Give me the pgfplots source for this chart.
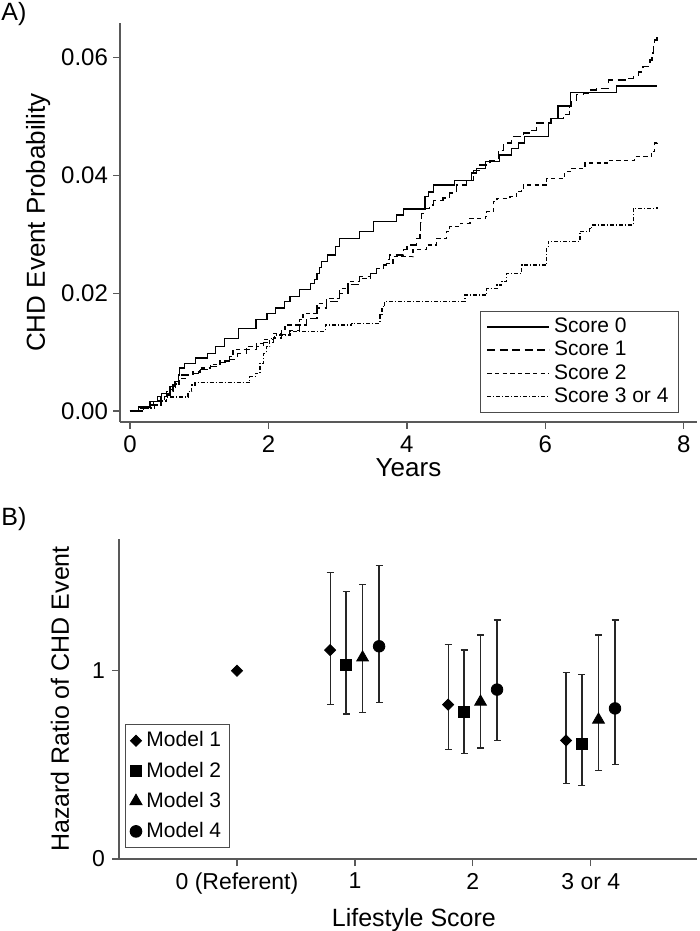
\documentclass[border=0pt]{standalone}
\usepackage{fontspec}
\setmainfont{Liberation Sans}
\usepackage{pgfplots}
\pgfplotsset{compat=1.18}
\begin{document}
\begin{tikzpicture}
\useasboundingbox (0,0) rectangle (350pt,-465.5pt);
\pgfplotsset{
  mystyle/.style={
    scale only axis,
    axis lines*=left,
    axis line style={black!65, line width=0.6pt},
    tick align=outside,
    major tick length=3.5pt,
    tick style={black!65, line width=0.6pt},
    tick label style={font=\fontsize{12}{14}\selectfont},
    label style={font=\fontsize{13}{15}\selectfont},
    scaled ticks=false,
    clip=false,
  }
}
\node[font=\fontsize{12.5}{14}\selectfont] at (7pt,-7pt) {A)};
\node[font=\fontsize{12.5}{14}\selectfont] at (7pt,-259.5pt) {B)};
% ---------------- Panel A ----------------
\begin{axis}[mystyle,
  at={(60pt,-11.5pt)}, anchor=north west,
  width=288.5pt, height=199.5pt,
  xmin=-0.144, xmax=8.19, ymin=-0.00187, ymax=0.0659,
  xtick={0,2,4,6,8}, xticklabels={0,2,4,6,8},
  ytick={0,0.02,0.04,0.06}, yticklabels={0.00,0.02,0.04,0.06},
  yticklabel style={xshift=1pt},
  xlabel={Years}, ylabel={CHD Event Probability},
  xlabel style={at={(axis description cs:0.5,0)}, anchor=center, yshift=-23pt},
  ylabel style={at={(axis description cs:-0.142,0.5)}, anchor=center},
  legend cell align=left,
  legend image code/.code={\draw[#1] (0pt,0pt) -- (31pt,0pt);},
  legend style={at={(axis description cs:1,0)}, anchor=south east,
    xshift=-9pt, yshift=4.5pt, draw=black!70, line width=0.5pt,
    font=\fontsize{10.5}{12}\selectfont, row sep=-1.2pt,
    inner xsep=3pt, inner ysep=1.5pt},
]
\addplot[const plot, black, line width=0.65pt] coordinates {
(0,0) (0.12,0.0007) (0.29,0.0016) (0.40,0.0025) (0.46,0.0030) (0.58,0.0041)
(0.65,0.0050) (0.70,0.0061) (0.72,0.0073) (0.79,0.0081) (0.95,0.0090)
(1.12,0.0098) (1.24,0.0109) (1.37,0.0123) (1.57,0.0140) (1.82,0.0155)
(1.98,0.0166) (2.10,0.0175) (2.23,0.0186) (2.31,0.0194) (2.45,0.0206)
(2.61,0.0217) (2.67,0.0223) (2.70,0.0234) (2.74,0.0244) (2.77,0.0254)
(2.85,0.0265) (2.97,0.0279) (3.03,0.0293) (3.32,0.0305) (3.52,0.0322)
(3.85,0.0333) (3.95,0.0343) (4.26,0.0364) (4.31,0.0372) (4.38,0.0384)
(4.69,0.0392) (4.93,0.0404) (5.01,0.0412) (5.13,0.0424) (5.34,0.0435)
(5.51,0.0446) (5.61,0.0455) (5.70,0.0466) (6.04,0.0490) (6.08,0.0497)
(6.18,0.0518) (6.36,0.0541) (7.03,0.0552) (7.61,0.0552)};
\addlegendentry{Score 0}
\addplot[const plot, black, line width=0.65pt, dash pattern=on 4pt off 2.2pt] coordinates {
(0,0) (0.14,0.0004) (0.25,0.0010) (0.34,0.0016) (0.45,0.0025) (0.53,0.0033)
(0.62,0.0045) (0.70,0.0056) (0.75,0.0061) (0.91,0.0064) (1.01,0.0070)
(1.16,0.0076) (1.30,0.0082) (1.44,0.0088) (1.55,0.0098) (1.68,0.0104)
(1.83,0.0110) (1.93,0.0116) (2.07,0.0124) (2.19,0.0130) (2.30,0.0137)
(2.45,0.0146) (2.55,0.0157) (2.70,0.0175) (2.84,0.0186) (3.03,0.0200)
(3.15,0.0215) (3.32,0.0228) (3.47,0.0234) (3.56,0.0242) (3.66,0.0248)
(3.71,0.0257) (3.75,0.0265) (3.95,0.0274) (4.00,0.0282) (4.14,0.0293)
(4.19,0.0302) (4.20,0.0320) (4.21,0.0336) (4.24,0.0344) (4.33,0.0350)
(4.38,0.0358) (4.52,0.0362) (4.62,0.0370) (4.72,0.0384) (4.86,0.0392)
(4.96,0.0409) (5.05,0.0418) (5.20,0.0426) (5.32,0.0443) (5.39,0.0455)
(5.51,0.0466) (5.68,0.0472) (5.80,0.0477) (5.87,0.0489) (6.09,0.0497)
(6.26,0.0503) (6.35,0.0517) (6.38,0.0528) (6.45,0.0537) (6.55,0.0540)
(6.64,0.0545) (6.74,0.0548) (6.91,0.0562) (7.17,0.0565) (7.27,0.0568)
(7.34,0.0576) (7.41,0.0585) (7.51,0.0596) (7.54,0.0608) (7.56,0.0619)
(7.58,0.0630) (7.61,0.0642)};
\addlegendentry{Score 1}
\addplot[const plot, black, line width=0.65pt, dash pattern=on 2.2pt off 1.6pt] coordinates {
(0,0) (0.18,0.0004) (0.30,0.0010) (0.40,0.0018) (0.50,0.0027) (0.58,0.0036)
(0.66,0.0046) (0.72,0.0055) (0.80,0.0062) (0.91,0.0066) (1.01,0.0073)
(1.16,0.0079) (1.30,0.0085) (1.44,0.0093) (1.49,0.0104) (1.68,0.0109)
(1.83,0.0115) (1.93,0.0121) (2.07,0.0132) (2.19,0.0138) (2.24,0.0146)
(2.45,0.0155) (2.50,0.0166) (2.70,0.0183) (2.84,0.0191) (3.03,0.0208)
(3.15,0.0220) (3.32,0.0225) (3.47,0.0234) (3.56,0.0242) (3.66,0.0250)
(3.80,0.0262) (4.09,0.0274) (4.28,0.0282) (4.43,0.0293) (4.57,0.0305)
(4.62,0.0313) (4.77,0.0319) (4.91,0.0327) (5.13,0.0330) (5.15,0.0339)
(5.25,0.0356) (5.30,0.0361) (5.49,0.0364) (5.58,0.0373) (5.66,0.0378)
(5.68,0.0384) (6.02,0.0395) (6.28,0.0407) (6.38,0.0412) (6.57,0.0421)
(6.90,0.0426) (7.29,0.0432) (7.53,0.0441) (7.58,0.0455) (7.61,0.0460)};
\addlegendentry{Score 2}
\addplot[const plot, black, line width=0.65pt, dash pattern=on 2pt off 1pt on 0.5pt off 1pt] coordinates {
(0,0) (0.20,0.0005) (0.35,0.0010) (0.45,0.0017) (0.53,0.0024) (0.84,0.0033)
(0.89,0.0044) (0.94,0.0048) (1.73,0.0058) (1.81,0.0064) (1.88,0.0081)
(1.93,0.0098) (1.97,0.0109) (2.02,0.0123) (2.09,0.0129) (2.31,0.0135)
(2.82,0.0146) (3.20,0.0149) (3.61,0.0163) (3.64,0.0177) (3.68,0.0186)
(4.84,0.0197) (5.15,0.0208) (5.30,0.0214) (5.37,0.0220) (5.44,0.0234)
(5.66,0.0248) (6.02,0.0279) (6.04,0.0288) (6.50,0.0305) (6.64,0.0310)
(6.67,0.0316) (7.27,0.0344) (7.61,0.0347)};
\addlegendentry{Score 3 or 4}
\end{axis}
% ---------------- Panel B ----------------
\begin{axis}[mystyle,
  at={(59.5pt,-269.5pt)}, anchor=north west,
  width=289pt, height=160pt,
  xmin=-1, xmax=3.9, ymin=0, ymax=1.7,
  xtick={0,1,2,3}, xticklabels={0 (Referent),1,2,3 or 4},
  ytick={0,1}, yticklabels={0,1},
  tick label style={font=\fontsize{11.5}{13}\selectfont},
  label style={font=\fontsize{12.5}{14}\selectfont},
  xlabel={Lifestyle Score}, ylabel={Hazard Ratio of CHD Event},
  xlabel style={at={(axis cs:1.5,0)}, anchor=center, yshift=-30.5pt},
  ylabel style={at={(axis description cs:-0.102,0.5)}, anchor=center},
  legend cell align=left,
  legend image code/.code={\path (-2pt,0pt) (4pt,0pt); \draw[#1] plot coordinates {(1pt,0pt)};},
  legend style={at={(axis description cs:0,0)}, anchor=south west,
    xshift=3pt, yshift=5.5pt, draw=black!70, line width=0.5pt,
    font=\fontsize{10.5}{12}\selectfont, row sep=2pt,
    inner xsep=2pt, inner ysep=1.5pt},
  every axis plot/.append style={only marks, black,
    error bars/y dir=both, error bars/y explicit,
    error bars/error bar style={black!85, line width=0.6pt},
    error bars/error mark options={rotate=90, mark size=1.75pt, black!85, line width=0.6pt}},
]
\addplot[mark=square*, mark options={rotate=45}, mark size=1.95pt]
  table[x=x, y=y, y error plus=ep, y error minus=em] {
x y ep em
0.79 1.11 0.41 0.29
1.79 0.82 0.32 0.24
2.79 0.63 0.36 0.23
};
\addlegendentry{Model 1}
\addplot[mark=square*, mark size=2.7pt]
  table[x=x, y=y, y error plus=ep, y error minus=em] {
x y ep em
0.925 1.03 0.39 0.26
1.925 0.78 0.33 0.22
2.925 0.61 0.37 0.22
};
\addlegendentry{Model 2}
\addplot[mark=triangle*, mark size=3.4pt]
  table[x=x, y=y, y error plus=ep, y error minus=em] {
x y ep em
1.065 1.07 0.39 0.29
2.065 0.835 0.355 0.245
3.065 0.74 0.45 0.27
};
\addlegendentry{Model 3}
\addplot[mark=*, mark size=2.9pt]
  table[x=x, y=y, y error plus=ep, y error minus=em] {
x y ep em
1.205 1.13 0.43 0.30
2.205 0.90 0.37 0.27
3.205 0.80 0.47 0.30
};
\addlegendentry{Model 4}
\addplot[mark=square*, mark options={rotate=45}, mark size=1.95pt, forget plot,
  error bars/y dir=none] coordinates {(0,1.0)};
\end{axis}
\end{tikzpicture}
\end{document}
